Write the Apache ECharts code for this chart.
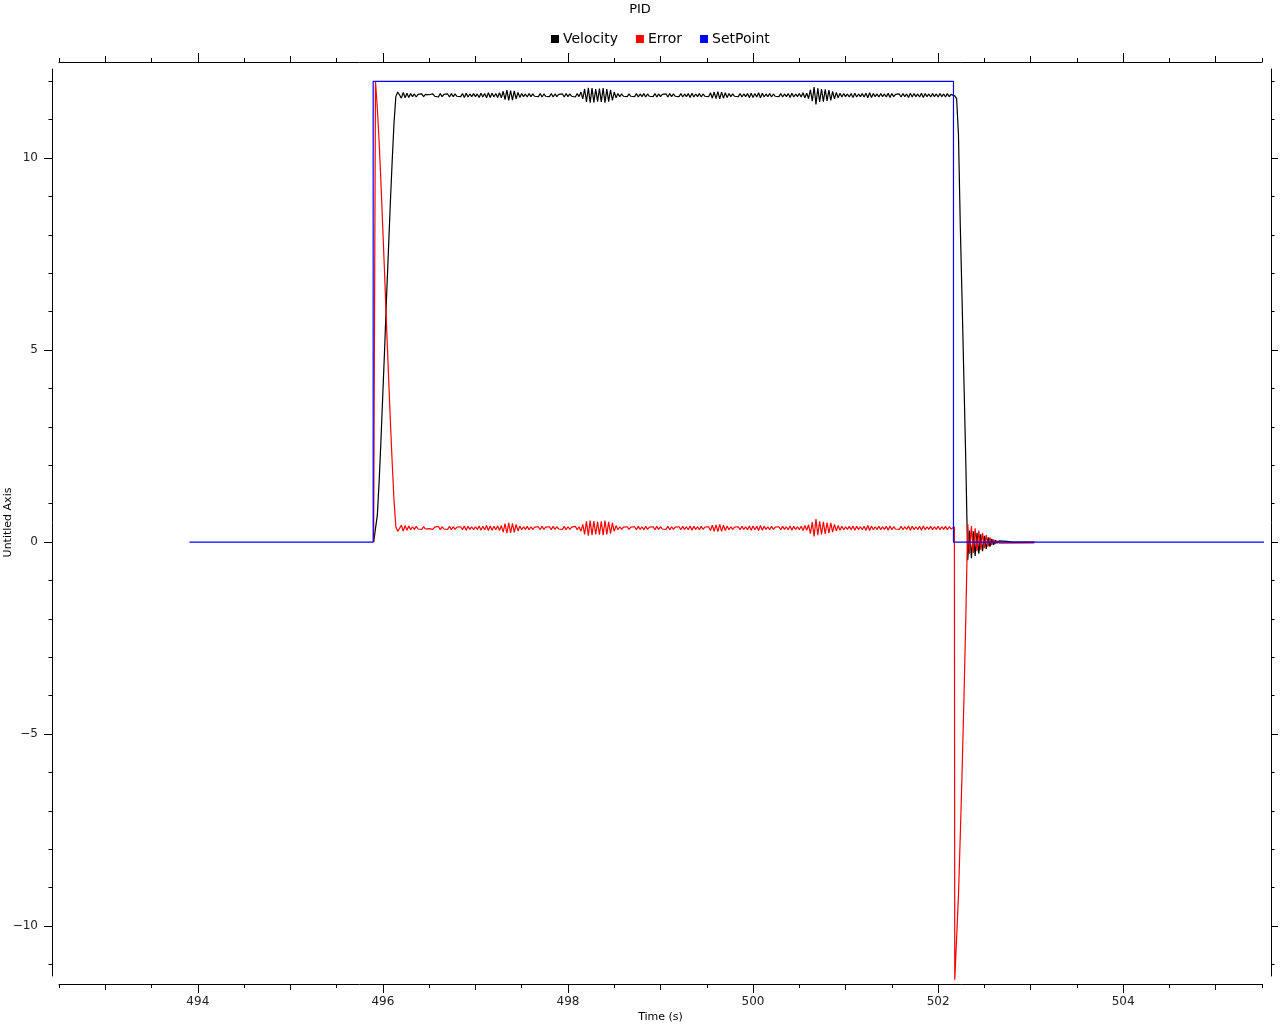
<!DOCTYPE html>
<html>
<head>
<meta charset="utf-8">
<script src="https://cdn.jsdelivr.net/npm/echarts@6/dist/echarts.min.js"></script>
<style>html,body{margin:0;padding:0;background:#fff}#c{width:1280px;height:1024px}</style>
</head>
<body>
<div id="c"></div>
<script>
// ---- data ----
var seriesNames = ['Velocity', 'Error', 'SetPoint'];
var xMajorTicks = [494, 496, 498, 500, 502, 504];
var xMidTicks = [493, 495, 497, 499, 501, 503, 505];
var xMinorTicks = [492.5, 493.5, 494.5, 495.5, 496.5, 497.5, 498.5, 499.5, 500.5, 501.5, 502.5, 503.5, 504.5, 505.5];
var yMajorTicks = [-10, -5, 0, 5, 10];
var yMinorTicks = [-11, -10, -9, -8, -7, -6, -5, -4, -3, -2, -1, 0, 1, 2, 3, 4, 5, 6, 7, 8, 9, 10, 11, 12];

var setPoint = [[493.91, 0], [495.895, 0], [495.895, 12], [502.166, 12], [502.166, 0], [505.56, 0]];

var velocityRise = [[495.90,0],[495.92,0],[495.94,0.7],[495.96,1.6],[495.98,2.7],[496.00,3.9],[496.02,5.1],[496.04,6.4],[496.06,7.6],[496.08,8.8],[496.10,9.9],[496.12,10.9],[496.14,11.6],[496.16,11.72]];
var steadyStart = 496.18, steadyStep = 0.02;
var velocitySteady = [
11.70,11.56,11.71,11.57,11.69,11.58,11.68,11.60,11.67,11.59,
11.66,11.61,11.67,11.60,11.66,11.62,11.65,11.60,11.67,11.61,
11.66,11.59,11.68,11.60,11.66,11.61,11.67,11.59,11.68,11.60,
11.67,11.61,11.66,11.60,11.68,11.58,11.69,11.59,11.67,11.60,
11.68,11.60,11.67,11.58,11.69,11.59,11.68,11.57,11.70,11.58,
11.69,11.59,11.68,11.58,11.70,11.57,11.74,11.52,11.77,11.50,
11.76,11.51,11.75,11.54,11.71,11.58,11.68,11.60,11.67,11.59,
11.68,11.60,11.67,11.61,11.66,11.60,11.68,11.59,11.67,11.61,
11.66,11.60,11.68,11.59,11.67,11.60,11.66,11.61,11.67,11.59,
11.68,11.60,11.67,11.61,11.66,11.59,11.68,11.60,11.72,11.54,
11.80,11.46,11.83,11.44,11.82,11.45,11.80,11.47,11.81,11.46,
11.82,11.44,11.80,11.47,11.78,11.50,11.72,11.57,11.68,11.60,
11.67,11.61,11.66,11.60,11.67,11.61,11.66,11.60,11.68,11.59,
11.67,11.60,11.68,11.59,11.67,11.61,11.66,11.60,11.68,11.59,
11.67,11.60,11.66,11.61,11.67,11.59,11.68,11.60,11.67,11.61,
11.66,11.60,11.68,11.59,11.67,11.60,11.68,11.58,11.69,11.59,
11.67,11.60,11.68,11.59,11.67,11.61,11.66,11.60,11.70,11.56,
11.72,11.55,11.73,11.54,11.72,11.56,11.70,11.58,11.68,11.60,
11.67,11.61,11.66,11.60,11.68,11.59,11.67,11.60,11.68,11.58,
11.69,11.58,11.68,11.59,11.70,11.57,11.69,11.59,11.67,11.60,
11.68,11.59,11.67,11.61,11.66,11.60,11.68,11.59,11.67,11.60,
11.68,11.58,11.69,11.59,11.67,11.60,11.68,11.59,11.70,11.57,
11.69,11.55,11.78,11.48,11.85,11.40,11.82,11.46,11.80,11.47,
11.79,11.49,11.77,11.50,11.74,11.54,11.71,11.57,11.69,11.59,
11.68,11.60,11.67,11.59,11.68,11.58,11.69,11.59,11.67,11.60,
11.68,11.59,11.69,11.57,11.70,11.58,11.68,11.60,11.67,11.59,
11.68,11.60,11.67,11.59,11.69,11.58,11.68,11.60,11.66,11.61,
11.67,11.59,11.68,11.60,11.67,11.58,11.69,11.59,11.68,11.60,
11.67,11.59,11.69,11.58,11.68,11.60,11.67,11.59,11.68,11.60,
11.67,11.59,11.68,11.60,11.67,11.59,11.68,11.60,11.66,11.62];
var velocityFall = [[502.18,11.62],[502.20,11.55],[502.22,10.6],[502.24,8.2],[502.26,6.2],[502.28,4.1],[502.30,2.0],[502.32,-0.47],[502.34,0.30],[502.36,-0.42],[502.38,0.28],[502.40,-0.36],[502.42,0.24],[502.44,-0.30],[502.46,0.20],[502.48,-0.24],[502.50,0.16],[502.52,-0.18],[502.54,0.12],[502.56,-0.12],[502.58,0.08],[502.60,-0.07],[502.62,0.05],[502.64,-0.03],[502.66,0.03],[502.68,0.02],[502.74,0.02],[502.80,0.0],[503.04,0.0]];

var errorRise = [[495.90,0],[495.915,0],[495.92,12.0],[495.94,11.3],[495.96,10.4],[495.98,9.3],[496.00,8.1],[496.02,6.9],[496.04,5.6],[496.06,4.4],[496.08,3.2],[496.10,2.1],[496.12,1.1],[496.14,0.4],[496.16,0.28]];
var errorSteady = [
0.30,0.44,0.29,0.43,0.31,0.42,0.32,0.40,0.33,0.41,
0.34,0.39,0.33,0.40,0.34,0.38,0.35,0.40,0.33,0.39,
0.34,0.41,0.32,0.40,0.34,0.39,0.33,0.41,0.32,0.40,
0.33,0.39,0.34,0.40,0.32,0.42,0.31,0.41,0.33,0.40,
0.32,0.40,0.33,0.42,0.31,0.41,0.32,0.43,0.30,0.42,
0.31,0.41,0.32,0.42,0.30,0.43,0.26,0.48,0.23,0.50,
0.24,0.49,0.25,0.46,0.29,0.42,0.32,0.40,0.33,0.41,
0.32,0.40,0.33,0.39,0.34,0.40,0.32,0.41,0.33,0.39,
0.34,0.40,0.32,0.41,0.33,0.40,0.34,0.39,0.33,0.41,
0.32,0.40,0.33,0.39,0.34,0.41,0.32,0.40,0.28,0.46,
0.20,0.54,0.17,0.56,0.18,0.55,0.20,0.53,0.19,0.54,
0.18,0.56,0.20,0.53,0.22,0.50,0.28,0.43,0.32,0.40,
0.33,0.39,0.34,0.40,0.33,0.39,0.34,0.40,0.32,0.41,
0.33,0.40,0.32,0.41,0.33,0.39,0.34,0.40,0.32,0.41,
0.33,0.40,0.34,0.39,0.33,0.41,0.32,0.40,0.33,0.39,
0.34,0.40,0.32,0.41,0.33,0.40,0.32,0.42,0.31,0.41,
0.33,0.40,0.32,0.41,0.33,0.39,0.34,0.40,0.30,0.44,
0.28,0.45,0.27,0.46,0.28,0.44,0.30,0.42,0.32,0.40,
0.33,0.39,0.34,0.40,0.32,0.41,0.33,0.40,0.32,0.42,
0.31,0.42,0.32,0.41,0.30,0.43,0.31,0.41,0.33,0.40,
0.32,0.41,0.33,0.39,0.34,0.40,0.32,0.41,0.33,0.40,
0.32,0.42,0.31,0.41,0.33,0.40,0.32,0.41,0.30,0.43,
0.31,0.45,0.22,0.52,0.15,0.60,0.18,0.54,0.20,0.53,
0.21,0.51,0.23,0.50,0.26,0.46,0.29,0.43,0.31,0.41,
0.32,0.40,0.33,0.41,0.32,0.42,0.31,0.41,0.33,0.40,
0.32,0.41,0.31,0.43,0.30,0.42,0.32,0.40,0.33,0.41,
0.32,0.40,0.33,0.41,0.31,0.42,0.32,0.40,0.34,0.39,
0.33,0.41,0.32,0.40,0.33,0.42,0.31,0.41,0.32,0.40,
0.33,0.41,0.31,0.42,0.32,0.40,0.33,0.41,0.32,0.40,
0.33,0.41,0.32,0.40,0.33,0.41,0.32,0.40,0.34,0.38];
var errorFall = [[502.176,0.40],[502.18,-11.40],[502.20,-11.45],[502.22,-9.2],[502.24,-7.6],[502.26,-5.9],[502.28,-4.0],[502.30,-1.9],[502.32,0.47],[502.34,-0.30],[502.36,0.42],[502.38,-0.28],[502.40,0.36],[502.42,-0.24],[502.44,0.30],[502.46,-0.20],[502.48,0.24],[502.50,-0.16],[502.52,0.18],[502.54,-0.12],[502.56,0.12],[502.58,-0.08],[502.60,0.07],[502.62,-0.05],[502.64,0.03],[502.66,-0.03],[502.68,-0.02],[503.04,-0.02]];

// ---- build series data ----
function steadyPairs(arr) {
  return arr.map(function (v, i) { return [+(steadyStart + i * steadyStep).toFixed(3), v]; });
}
var velocity = velocityRise.concat(steadyPairs(velocitySteady), velocityFall);
var error = errorRise.concat(steadyPairs(errorSteady), errorFall);

var FONT = 'DejaVu Sans';
var X_MIN = 492.5, X_MAX = 505.5, Y_MIN = -11.3, Y_MAX = 12.32;
function minusFmt(v) { return String(v).replace('-', '\u2212'); }

function xAx(pos, offset, ticks, len, labels, extra) {
  var a = {
    type: 'value', position: pos, offset: offset, min: X_MIN, max: X_MAX,
    axisLine: { show: labels !== false, onZero: false, lineStyle: { color: '#000', width: 1 } },
    axisTick: { show: true, customValues: ticks, length: len, lineStyle: { color: '#000', width: 1 } },
    axisLabel: labels ? { show: true, customValues: ticks, color: '#222', fontFamily: FONT, fontSize: 12, margin: 12 } : { show: false },
    splitLine: { show: false }
  };
  if (extra) for (var k in extra) a[k] = extra[k];
  return a;
}
function yAx(pos, offset, ticks, len, labels, extra) {
  var a = {
    type: 'value', position: pos, offset: offset, min: Y_MIN, max: Y_MAX,
    axisLine: { show: labels !== false, onZero: false, lineStyle: { color: '#000', width: 1 } },
    axisTick: { show: true, customValues: ticks, length: len, lineStyle: { color: '#000', width: 1 } },
    axisLabel: labels ? { show: true, customValues: ticks, formatter: minusFmt, color: '#222', fontFamily: FONT, fontSize: 12, margin: 14 } : { show: false },
    splitLine: { show: false }
  };
  if (extra) for (var k in extra) a[k] = extra[k];
  return a;
}

var chart = echarts.init(document.getElementById('c'), null, { renderer: 'canvas' });
chart.setOption({
  animation: false,
  backgroundColor: '#fff',
  title: { text: 'PID', left: 'center', top: -2, textStyle: { fontFamily: FONT, fontSize: 13, fontWeight: 'normal', color: '#000' } },
  legend: {
    data: seriesNames, left: 551, top: 32, padding: 0, icon: 'rect', itemWidth: 8, itemHeight: 8, itemGap: 18,
    textStyle: { fontFamily: FONT, fontSize: 14, color: '#000', padding: [0, 0, 0, -1] }
  },
  grid: { left: 59, right: 18, top: 69, bottom: 48, containLabel: false, outerBoundsMode: 'none' },
  xAxis: [
    xAx('bottom', 8, xMajorTicks, 9, true, {
      name: 'Time (s)', nameLocation: 'middle', nameGap: 28, nameMoveOverlap: false,
      nameTextStyle: { fontFamily: FONT, fontSize: 11, color: '#000' }
    }),
    xAx('bottom', 8, xMidTicks, 6, false),
    xAx('bottom', 8, xMinorTicks, 4, false),
    xAx('top', 7, xMajorTicks, 9, null),
    xAx('top', 7, xMidTicks, 6, false),
    xAx('top', 7, xMinorTicks, 4, false)
  ],
  yAxis: [
    yAx('left', 7, yMajorTicks, 8, true, {
      name: 'Untitled Axis', nameLocation: 'middle', nameGap: 38, nameRotate: 90, nameMoveOverlap: false,
      nameTextStyle: { fontFamily: FONT, fontSize: 11, color: '#000' }
    }),
    yAx('left', 7, yMinorTicks, 3.5, false),
    yAx('right', 9, yMajorTicks, 7, null),
    yAx('right', 9, yMinorTicks, 3.5, false)
  ],
  series: [
    { name: 'Velocity', type: 'line', data: velocity, xAxisIndex: 0, yAxisIndex: 0, showSymbol: false, clip: false, lineStyle: { color: '#000000', width: 1.2 }, itemStyle: { color: '#000000' } },
    { name: 'Error', type: 'line', data: error, xAxisIndex: 0, yAxisIndex: 0, showSymbol: false, clip: false, lineStyle: { color: '#ff0000', width: 1.2 }, itemStyle: { color: '#ff0000' } },
    { name: 'SetPoint', type: 'line', data: setPoint, xAxisIndex: 0, yAxisIndex: 0, showSymbol: false, clip: false, lineStyle: { color: '#0000ff', width: 1.2 }, itemStyle: { color: '#0000ff' } }
  ]
});
</script>
</body>
</html>
